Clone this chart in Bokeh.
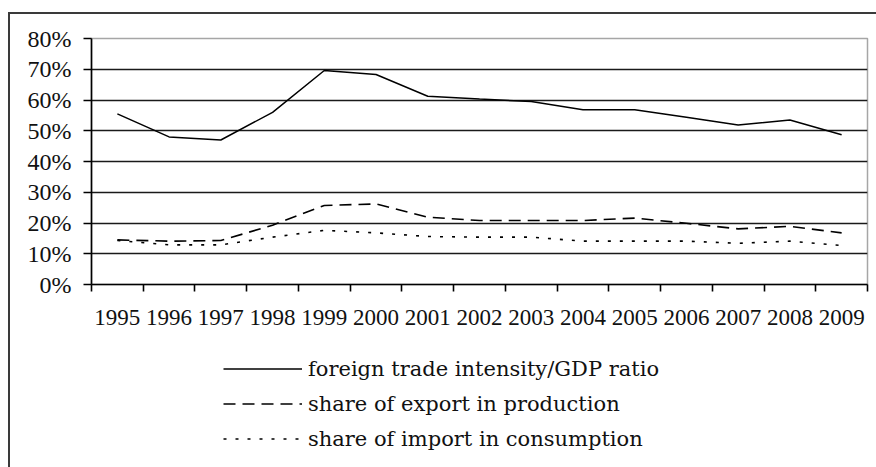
from bokeh.plotting import figure
from bokeh.layouts import column
from bokeh.models import (Range1d, FixedTicker, NumeralTickFormatter, Legend, LegendItem,
                          ColumnDataSource)
from bokeh.embed import file_html
from bokeh.resources import INLINE

years = ["1995", "1996", "1997", "1998", "1999", "2000", "2001", "2002",
         "2003", "2004", "2005", "2006", "2007", "2008", "2009"]
trade_gdp = [55.5, 48.0, 47.0, 56.0, 69.6, 68.3, 61.2, 60.3, 59.5, 56.8, 56.8, 54.4, 51.9, 53.5, 48.7]
export_share = [14.5, 14.1, 14.3, 19.3, 25.7, 26.2, 21.9, 20.8, 20.8, 20.8, 21.6, 19.9, 18.1, 18.9, 16.8]
import_share = [14.3, 12.9, 12.9, 15.4, 17.6, 16.8, 15.6, 15.4, 15.4, 14.1, 14.1, 14.1, 13.4, 14.1, 12.7]
y_ticks = [0, 10, 20, 30, 40, 50, 60, 70, 80]
labels = ["foreign trade intensity/GDP ratio",
          "share of export in production",
          "share of import in consumption"]

n = len(years)
xc = [i + 0.5 for i in range(n)]
src = ColumnDataSource(dict(
    x=xc,
    trade=[v / 100 for v in trade_gdp],
    exp=[v / 100 for v in export_share],
    imp=[v / 100 for v in import_share],
))

TOP_H = 340
FRAME_LEFT = 91
p = figure(width=876, height=TOP_H, output_backend="svg", toolbar_location=None,
           x_range=Range1d(0, n), y_range=Range1d(0, 0.8),
           min_border_left=FRAME_LEFT, min_border_right=9, min_border_top=38,
           min_border_bottom=TOP_H - 284,
           background_fill_color="white", border_fill_alpha=0)

p.outline_line_color = "#a6a6a6"
p.outline_line_width = 1.5

# grid
p.xgrid.visible = False
p.ygrid.ticker = FixedTicker(ticks=[t / 100 for t in y_ticks[1:-1]])
p.ygrid.grid_line_color = "#1a1a1a"
p.ygrid.grid_line_width = 1.6

serif = "Liberation Serif"

# y axis
p.yaxis.ticker = FixedTicker(ticks=[t / 100 for t in y_ticks])
p.yaxis.formatter = NumeralTickFormatter(format="0%")
p.yaxis.axis_line_color = "black"
p.yaxis.axis_line_width = 1.6
p.yaxis.major_tick_line_color = "black"
p.yaxis.major_tick_line_width = 1.6
p.yaxis.major_tick_out = 8
p.yaxis.major_tick_in = 0
p.yaxis.minor_tick_line_color = None
p.yaxis.major_label_standoff = 12
p.yaxis.major_label_text_font = serif
p.yaxis.major_label_text_font_size = "24px"
p.yaxis.major_label_text_color = "#111111"

# x axis: labels at category centres, tick marks at category boundaries
p.xaxis.ticker = FixedTicker(ticks=xc, minor_ticks=list(range(n + 1)))
p.xaxis.major_label_overrides = {x: y for x, y in zip(xc, years)}
p.xaxis.axis_line_color = "black"
p.xaxis.axis_line_width = 1.6
p.xaxis.major_tick_line_color = None
p.xaxis.major_tick_out = 0
p.xaxis.major_tick_in = 0
p.xaxis.minor_tick_line_color = "black"
p.xaxis.minor_tick_line_width = 1.6
p.xaxis.minor_tick_out = 7
p.xaxis.minor_tick_in = 0
p.xaxis.major_label_standoff = 18
p.xaxis.major_label_text_font = serif
p.xaxis.major_label_text_font_size = "23px"
p.xaxis.major_label_text_color = "#111111"

styles = [dict(line_color="black", line_width=1.5),
          dict(line_color="black", line_width=1.6, line_dash="12 7"),
          dict(line_color="black", line_width=1.6, line_dash="3 9")]
cols = ["trade", "exp", "imp"]

for c, s in zip(cols, styles):
    p.line("x", c, source=src, **s)

# legend panel underneath the chart (its own ranges keep the series out of view,
# only the legend keys are shown)
BOT_H = 467 - TOP_H
lg = figure(width=876, height=BOT_H, output_backend="svg", toolbar_location=None,
            x_range=Range1d(100, 101), y_range=Range1d(100, 101),
            x_axis_location=None, y_axis_location=None,
            min_border=0, background_fill_alpha=0, border_fill_alpha=0)
lg.grid.visible = False
lg.outline_line_color = None

keys = [lg.line("x", c, source=src, **s) for c, s in zip(cols, styles)]

row_h, gap = 25, 10
leg_h = 3 * row_h + 2 * gap
leg_top = 356 - TOP_H
legend = Legend(items=[LegendItem(label=lab, renderers=[r]) for lab, r in zip(labels, keys)],
                location=(223 - FRAME_LEFT, BOT_H - leg_top - leg_h), orientation="vertical",
                glyph_width=79, glyph_height=row_h, label_height=row_h, spacing=gap,
                label_standoff=6, padding=0, margin=0,
                border_line_color=None, background_fill_alpha=0,
                label_text_font="DejaVu Serif", label_text_font_size="21px",
                label_text_color="#111111")
lg.add_layout(legend, "center")

page = column(p, lg, spacing=0)
# outer chart frame (left and top edges visible in the reference)
page.styles = {
    "background": ("linear-gradient(#3a3a3a,#3a3a3a) 8px 12px / 2px 100% no-repeat, "
                   "linear-gradient(#3a3a3a,#3a3a3a) 8px 12px / 100% 2px no-repeat, white"),
}

open("out.html", "w").write(file_html(page, INLINE))
